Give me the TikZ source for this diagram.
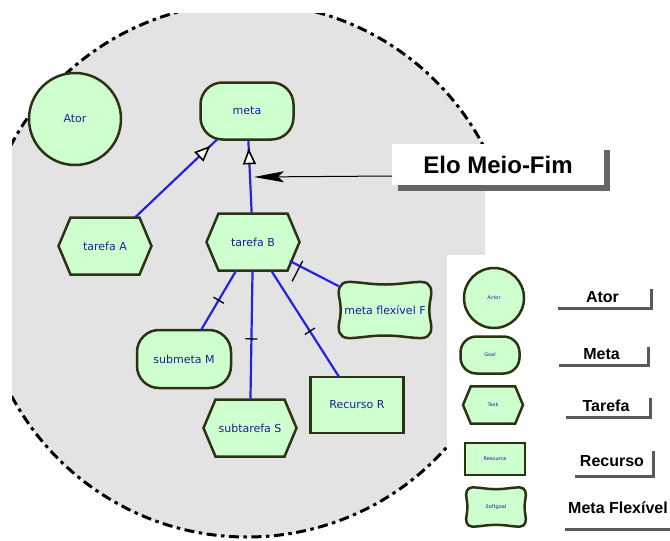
\documentclass[tikz,border=0pt]{standalone}
\usepackage{fontspec}
\setmainfont{DejaVu Sans}
\newfontfamily\labelfont{Liberation Sans}
\usetikzlibrary{arrows.meta,decorations.markings,shadows,calc}

\definecolor{bggray}{RGB}{227,227,227}
\definecolor{nodefill}{RGB}{206,255,206}
\definecolor{nodeline}{RGB}{45,50,20}
\definecolor{linkblue}{RGB}{35,35,225}
\definecolor{txtblue}{RGB}{30,30,150}

\begin{document}
\begin{tikzpicture}[x=1pt,y=-1pt,
  every node/.style={inner sep=0pt, outer sep=0pt},
  nodetext/.style={font=\fontsize{11}{13}\selectfont, text=txtblue},
  legtext/.style={font=\fontsize{5}{6}\selectfont, text=txtblue},
  shapeline/.style={draw=nodeline, fill=nodefill, line width=2.5pt},
  actorshape/.style={circle, shapeline, nodetext},
  goalshape/.style={rectangle, rounded corners=22pt, shapeline, nodetext},
  resshape/.style={rectangle, shapeline, nodetext},
  holder/.style={rectangle, nodetext},
  link/.style={draw=linkblue, line width=2.2pt},
  meansend/.style={link, postaction={decorate},
    decoration={markings, mark=at position -11pt with
      {\draw[black, fill=white, line width=1.6pt, line join=miter]
        (0pt,0pt) -- (-13pt,5.5pt) -- (-13pt,-5.5pt) -- cycle;}}},
  decomp/.style={link, postaction={decorate},
    decoration={markings, mark=at position #1 with
      {\draw[black, line width=1.3pt] (0pt,-6pt) -- (0pt,6pt);}}},
  labbox/.style={rectangle, fill=white,
    drop shadow={shadow xshift=3pt, shadow yshift=-3pt, fill=black!65, opacity=1},
    font=\labelfont\bfseries\fontsize{16}{19}\selectfont,
    text height=11.5pt, text depth=0pt},
  elobox/.style={rectangle, fill=white,
    drop shadow={shadow xshift=6pt, shadow yshift=-6pt, fill=black!60, opacity=1},
    font=\labelfont\bfseries\fontsize{24}{28}\selectfont},
  hexa/.pic={\path[shapeline] (-46.5,0) -- (-34.5,-28.5) -- (34.5,-28.5) -- (46.5,0)
      -- (34.5,28.5) -- (-34.5,28.5) -- cycle;},
  softgoal/.pic={\path[shapeline] (0,-25.5) .. controls (16,-25.5) and (28,-28.5) .. (37,-28)
      .. controls (46,-27.5) and (47.5,-20) .. (45.5,-11)
      .. controls (44,-5) and (44,5) .. (45.5,11)
      .. controls (47.5,20) and (46,27.5) .. (37,28)
      .. controls (28,28.5) and (16,25.5) .. (0,25.5)
      .. controls (-16,25.5) and (-28,28.5) .. (-37,28)
      .. controls (-46,27.5) and (-47.5,20) .. (-45.5,11)
      .. controls (-44,5) and (-44,-5) .. (-45.5,-11)
      .. controls (-47.5,-20) and (-46,-27.5) .. (-37,-28)
      .. controls (-28,-28.5) and (-16,-25.5) .. (0,-25.5) -- cycle;}
]
\useasboundingbox (0,0) rectangle (670,541);

% actor boundary
\begin{scope}
  \clip (12,13) rectangle (485,541);
  \fill[bggray] (247,270) circle[radius=267];
  \draw[line width=3pt, dash pattern=on 10pt off 4.5pt on 3.5pt off 4.5pt] (247,270) circle[radius=267];
\end{scope}
\fill[white] (447,255) rectangle (670,541);

% main nodes
\node[actorshape, minimum size=92pt] (ator) at (75,119) {Ator};
\node[goalshape, minimum width=93pt, minimum height=57pt] (meta) at (247,111) {meta};
\pic at (105,246) {hexa};
\node[holder, minimum width=93pt, minimum height=57pt] (tA) at (105,246) {tarefa A};
\pic at (253,242) {hexa};
\node[holder, minimum width=93pt, minimum height=57pt] (tB) at (253,242) {tarefa B};
\pic at (385,310) {softgoal};
\node[holder, minimum width=93pt, minimum height=56pt] (F) at (385,310) {meta flexível F};
\node[goalshape, minimum width=94pt, minimum height=58pt] (M) at (184,359) {submeta M};
\pic at (250,428) {hexa};
\node[holder, minimum width=93pt, minimum height=57pt] (S) at (250,428) {subtarefa S};
\node[resshape, minimum width=93pt, minimum height=56pt] (R) at (357,405) {Recurso R};

% links
\draw[meansend] (tA) -- (meta);
\draw[meansend] (tB) -- (meta);
\draw[decomp=0.5] (tB) -- (M);
\draw[decomp=0.53] (tB) -- (S);
\draw[decomp=0.57] (tB) -- (R);
\draw[decomp=0.5pt, shorten <=-11pt] (tB) -- (F);

% Elo Meio-Fim callout
\node[elobox, minimum width=212pt, minimum height=41pt] (elo) at (498,164.5) {Elo Meio-Fim};
\coordinate (elotip) at (254,177);
\draw[line width=1pt, -{Stealth[length=30pt, width=11pt, inset=6pt]}]
  ($(elo.west)+(0,11.5)$) -- (elotip);

% legend
\node[actorshape, legtext, minimum size=60pt] (lA) at (494,298) {Actor};
\node[goalshape, legtext, rounded corners=16pt, minimum width=59pt, minimum height=37pt] (lG) at (490,355) {Goal};
\pic[xscale=0.645, yscale=0.65] at (493,405) {hexa};
\node[holder, legtext, minimum width=60pt, minimum height=37pt] (lT) at (493,405) {Task};
\node[resshape, legtext, minimum width=60pt, minimum height=32pt] (lR) at (495,459) {Resource};
\pic[xscale=0.645, yscale=0.7] at (496,507) {softgoal};
\node[holder, legtext, minimum width=60pt, minimum height=39pt] (lS) at (496,507) {Softgoal};

\node[labbox, minimum width=95pt, minimum height=21pt] (kA) at (602.5,296.5) {Ator};
\node[labbox, minimum width=91pt, minimum height=20pt] (kG) at (601.5,354) {Meta};
\node[labbox, minimum width=86pt, minimum height=21pt] (kT) at (606,405.5) {Tarefa};
\node[labbox, minimum width=80pt, minimum height=27pt] (kR) at (612,461) {Recurso};
\node[labbox, minimum width=112pt, minimum height=40pt] (kS) at (618,508) {Meta Flexível};
\end{tikzpicture}
\end{document}
